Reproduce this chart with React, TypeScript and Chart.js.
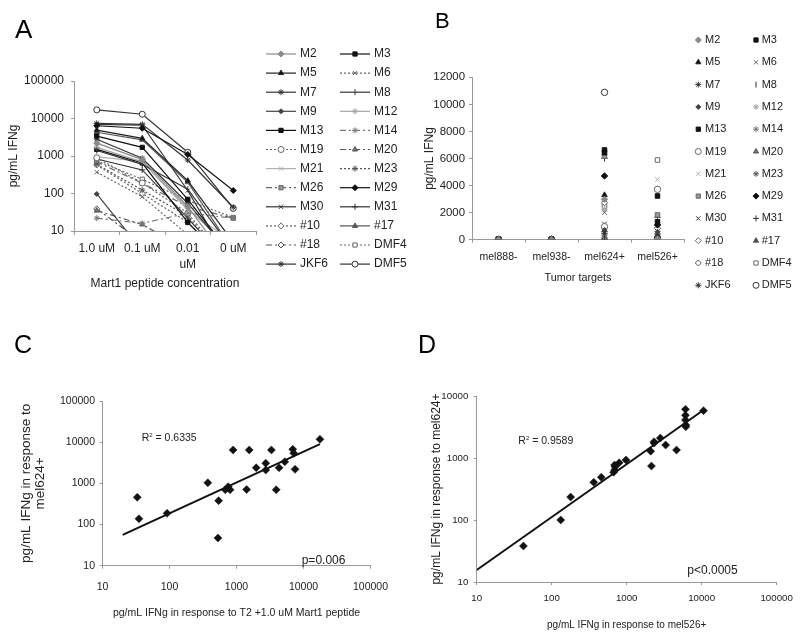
import React, { useEffect, useRef } from "react";
import { Chart, registerables } from "chart.js";
import { drawPoint } from "chart.js/helpers";

Chart.register(...registerables);

const FONT_A = "'Liberation Sans', Arial, sans-serif";
const TEXT = "#222";
const AXIS = "#9a9a9a";

// ---------------- Data ----------------
const clones = ["M2","M3","M5","M6","M7","M8","M9","M12","M13","M14","M19","M20","M21","M23","M26","M29","M30","M31","#10","#17","#18","DMF4","JKF6","DMF5"];

// Panel A: IFNg (pg/mL) vs Mart1 peptide concentration
const concentrationLabels = [["1.0 uM"], ["0.1 uM"], ["0.01", "uM"], ["0 uM"]];
const ifn1uM   = [2200,3400,4900,370,2800,1400,97,1700,1500,22,900,35,950,600,700,6400,7000,830,575,4300,39,750,7400,17000];
const ifn01uM  = [800,1700,2950,82,870,600,3,700,650,16,190,15,720,123,187,5500,6600,425,100,2700,5,240,7000,13000];
const ifn001uM = [45,70,220,8,55,130,1,40,17,30,30,3,36,25,45,1100,120,22,17,200,1,65,780,1260];
const ifn0uM   = [1,2,5,1,2,3,1,3,1,22,1,1,5,1,22,120,1,1,1,3,1,23,43,40];
const yTicksA = [10, 100, 1000, 10000, 100000];

// Panel B: IFNg (pg/mL) vs tumor targets
const targetLabels = ["mel888-", "mel938-", "mel624+", "mel526+"];
const bMel888 = [20,10,30,15,40,5,25,10,35,20,15,10,5,20,30,25,10,15,20,5,10,30,20,15];
const bMel938 = [15,20,10,25,30,10,20,15,25,10,20,5,10,15,20,30,15,10,25,10,15,35,25,20];
const bMel624 = [2980,6630,3300,2000,470,100,720,2240,6430,350,960,120,60,40,6180,4710,1160,6010,30,220,2740,2490,600,10890];
const bMel526 = [60,3230,150,40,220,30,590,80,1330,20,3720,10,4460,50,1830,1090,300,1650,70,25,840,5890,420,120];
const yTicksB = [0, 2000, 4000, 6000, 8000, 10000, 12000];

// Panel C: mel624+ response vs T2 + 1.0 uM Mart1 response
const cT2     = [33,35,92,373,541,528,680,751,802,890,1416,1549,1970,2735,2735,3320,3916,4322,5250,6920,7170,7480,17600];
const cMel624 = [457,138,187,1030,380,47,700,830,700,6460,710,6460,2400,3090,2100,6460,700,2400,3330,6730,5370,2190,11700];
const cFitA = 5.94, cFitB = 0.749;
const cFitX = [20, 17600];
const logTicks5 = [10, 100, 1000, 10000, 100000];

// Panel D: mel624+ response vs mel526+ response
const dMel526 = [42,132,179,364,459,670,690,700,690,794,980,2090,2140,2320,2320,2810,3310,4620,6080,6080,6080,6150,6150,10590];
const dMel624 = [38,100,234,405,490,590,640,720,770,840,930,1290,740,1740,1830,2100,1620,1340,6100,4900,4100,3400,3200,5800];
const dFitA = 2.19, dFitB = 0.853;
const dFitX = [10, 10590];
const logTicks4 = [10, 100, 1000, 10000];

// ---------------- Styles ----------------
type S = { color: string; dash: number[]; point: string; fill: string; rot?: number; r?: number };
const DOT = [2, 2], DD = [6, 3, 2, 3], SOLID: number[] = [];
const cloneStyles: S[] = [
  { color: "#8a8a8a", dash: SOLID, point: "rectRot", fill: "#8a8a8a" }, // M2
  { color: "#111", dash: SOLID, point: "rect", fill: "#111" }, // M3
  { color: "#222", dash: SOLID, point: "triangle", fill: "#111" }, // M5
  { color: "#666", dash: DOT, point: "crossRot", fill: "#666" }, // M6
  { color: "#333", dash: SOLID, point: "star", fill: "#333" }, // M7
  { color: "#333", dash: SOLID, point: "line", fill: "#333", rot: 90 }, // M8
  { color: "#444", dash: SOLID, point: "rectRot", fill: "#444", r: 2.5 }, // M9
  { color: "#a5a5a5", dash: SOLID, point: "star", fill: "#a5a5a5" }, // M12
  { color: "#111", dash: SOLID, point: "rect", fill: "#111" }, // M13
  { color: "#777", dash: DD, point: "star", fill: "#777" }, // M14
  { color: "#666", dash: DOT, point: "circle", fill: "#fff" }, // M19
  { color: "#555", dash: DD, point: "triangle", fill: "#777" }, // M20
  { color: "#b0b0b0", dash: SOLID, point: "crossRot", fill: "#b0b0b0" }, // M21
  { color: "#555", dash: DOT, point: "star", fill: "#555" }, // M23
  { color: "#666", dash: DD, point: "rect", fill: "#999" }, // M26
  { color: "#111", dash: SOLID, point: "rectRot", fill: "#111" }, // M29
  { color: "#333", dash: SOLID, point: "crossRot", fill: "#333" }, // M30
  { color: "#333", dash: SOLID, point: "cross", fill: "#333" }, // M31
  { color: "#666", dash: DOT, point: "rectRot", fill: "#fff" }, // #10
  { color: "#555", dash: SOLID, point: "triangle", fill: "#555" }, // #17
  { color: "#555", dash: DD, point: "rectRot", fill: "#fff" }, // #18
  { color: "#666", dash: DOT, point: "rect", fill: "#fff" }, // DMF4
  { color: "#333", dash: SOLID, point: "star", fill: "#333" }, // JKF6
  { color: "#333", dash: SOLID, point: "circle", fill: "#fff" }, // DMF5
];

// ---------------- Helpers ----------------
function overlay(draw: (ctx: CanvasRenderingContext2D, chart: any) => void) {
  return {
    id: "overlay",
    afterDraw(chart: any) {
      const ctx = chart.ctx as CanvasRenderingContext2D;
      ctx.save();
      draw(ctx, chart);
      ctx.restore();
    },
  };
}

function panelLetter(ctx: CanvasRenderingContext2D, t: string, x: number, y: number, size: number) {
  ctx.font = `${size}px ${FONT_A}`;
  ctx.fillStyle = "#000";
  ctx.textBaseline = "alphabetic";
  ctx.textAlign = "left";
  ctx.fillText(t, x, y);
}

function drawLegend(
  ctx: CanvasRenderingContext2D,
  o: { colX: number[]; labelX: number[]; y0: number; dy: number; line: number; font: string; r: number }
) {
  clones.forEach((label, i) => {
    const col = i % 2, row = Math.floor(i / 2);
    const y = o.y0 + row * o.dy;
    const s = cloneStyles[i];
    let mx = o.colX[col];
    if (o.line > 0) {
      ctx.save();
      ctx.strokeStyle = s.color;
      ctx.lineWidth = 1.2;
      ctx.setLineDash(s.dash);
      ctx.beginPath();
      ctx.moveTo(o.colX[col], y);
      ctx.lineTo(o.colX[col] + o.line, y);
      ctx.stroke();
      ctx.restore();
      mx = o.colX[col] + o.line / 2;
    }
    ctx.save();
    ctx.setLineDash([]);
    ctx.fillStyle = s.fill;
    ctx.strokeStyle = s.color;
    ctx.lineWidth = 1;
    drawPoint(ctx, { pointStyle: s.point as any, rotation: s.rot || 0, radius: s.r ?? o.r, borderWidth: 1 } as any, mx, y);
    ctx.restore();
    ctx.fillStyle = TEXT;
    ctx.font = o.font;
    ctx.textBaseline = "middle";
    ctx.textAlign = "left";
    ctx.fillText(label, o.labelX[col], y);
  });
}

function rSquared(ctx: CanvasRenderingContext2D, x: number, y: number, value: string) {
  ctx.fillStyle = TEXT;
  ctx.textBaseline = "alphabetic";
  ctx.textAlign = "left";
  ctx.font = `10.5px ${FONT_A}`;
  ctx.fillText("R", x, y);
  const w = ctx.measureText("R").width;
  ctx.font = `6px ${FONT_A}`;
  ctx.fillText("2", x + w, y - 4);
  const w2 = ctx.measureText("2").width;
  ctx.font = `10.5px ${FONT_A}`;
  ctx.fillText(" = " + value, x + w + w2, y);
}

function plainText(ctx: CanvasRenderingContext2D, t: string, x: number, y: number) {
  ctx.fillStyle = TEXT;
  ctx.textBaseline = "alphabetic";
  ctx.textAlign = "left";
  ctx.font = `12px ${FONT_A}`;
  ctx.fillText(t, x, y);
}

const fixW = (w: number) => (s: any) => { s.width = w; };
const fixH = (h: number) => (s: any) => { s.height = h; };
const setTicks = (vals: number[]) => (s: any) => { s.ticks = vals.map((v) => ({ value: v })); };
const axisGrid = { display: true, drawOnChartArea: false, drawTicks: true, tickLength: 3, color: AXIS };
const axisBorder = { display: true, color: AXIS, width: 1 };

// ---------------- Configs ----------------
function configA(): any {
  return {
    type: "line",
    data: {
      labels: concentrationLabels,
      datasets: clones.map((name, i) => ({
        label: name,
        data: [ifn1uM[i], ifn01uM[i], ifn001uM[i], ifn0uM[i]],
        borderColor: cloneStyles[i].color,
        borderDash: cloneStyles[i].dash,
        borderWidth: 1.2,
        pointStyle: cloneStyles[i].point,
        rotation: cloneStyles[i].rot || 0,
        pointRadius: cloneStyles[i].r ?? 3,
        pointBackgroundColor: cloneStyles[i].fill,
        pointBorderColor: cloneStyles[i].color,
        pointBorderWidth: 1,
        tension: 0,
        fill: false,
      })),
    },
    options: {
      animation: false,
      responsive: false,
      events: [],
      layout: { padding: { left: 0, top: 81, right: 164, bottom: 0 } },
      plugins: { legend: { display: false }, tooltip: { enabled: false } },
      scales: {
        x: {
          type: "category",
          offset: true,
          afterFit: fixH(89),
          grid: { ...axisGrid, offset: true, tickLength: 4 },
          border: axisBorder,
          ticks: { font: { family: FONT_A, size: 12, lineHeight: 1.333 }, color: TEXT, padding: 6, maxRotation: 0, autoSkip: false },
          title: { display: true, text: "Mart1 peptide concentration", color: TEXT, font: { family: FONT_A, size: 12 }, padding: { top: 0, bottom: 29 } },
        },
        y: {
          type: "logarithmic",
          min: 10,
          max: 100000,
          afterBuildTicks: setTicks(yTicksA),
          afterFit: fixW(74),
          grid: axisGrid,
          border: axisBorder,
          ticks: { callback: (v: any) => String(v), font: { family: FONT_A, size: 12 }, color: TEXT, padding: 7 },
          title: { display: true, text: "pg/mL IFNg", color: TEXT, font: { family: FONT_A, size: 12 }, padding: { top: 6, bottom: 0 } },
        },
      },
    },
    plugins: [
      overlay((ctx) => {
        panelLetter(ctx, "A", 15, 38, 26);
        drawLegend(ctx, { colX: [266, 340], labelX: [300, 374], y0: 54, dy: 19.1, line: 30, font: `12px ${FONT_A}`, r: 3 });
      }),
    ],
  };
}

function configB(): any {
  return {
    type: "line",
    data: {
      labels: targetLabels,
      datasets: clones.map((name, i) => ({
        label: name,
        data: [bMel888[i], bMel938[i], bMel624[i], bMel526[i]],
        showLine: false,
        pointStyle: cloneStyles[i].point,
        rotation: cloneStyles[i].rot || 0,
        pointRadius: cloneStyles[i].r ?? 3.2,
        pointBackgroundColor: cloneStyles[i].fill,
        pointBorderColor: cloneStyles[i].color,
        pointBorderWidth: 1,
      })),
    },
    options: {
      animation: false,
      responsive: false,
      events: [],
      layout: { padding: { left: 0, top: 77.3, right: 116, bottom: 0 } },
      plugins: { legend: { display: false }, tooltip: { enabled: false } },
      scales: {
        x: {
          type: "category",
          offset: true,
          afterFit: fixH(80.3),
          grid: { ...axisGrid, offset: true },
          border: axisBorder,
          ticks: { font: { family: FONT_A, size: 10.5 }, color: TEXT, padding: 8.3, maxRotation: 0, autoSkip: false },
          title: { display: true, text: "Tumor targets", color: TEXT, font: { family: FONT_A, size: 10.8 }, padding: { top: 0, bottom: 35.2 } },
        },
        y: {
          type: "linear",
          min: 0,
          max: 12000,
          afterBuildTicks: setTicks(yTicksB),
          afterFit: fixW(52),
          grid: axisGrid,
          border: axisBorder,
          ticks: { callback: (v: any) => String(v), font: { family: FONT_A, size: 11.4 }, color: TEXT, padding: 4 },
          title: { display: true, text: "pg/mL IFNg", color: TEXT, font: { family: FONT_A, size: 12 }, padding: { top: 2, bottom: 0 } },
        },
      },
    },
    plugins: [
      overlay((ctx) => {
        panelLetter(ctx, "B", 15, 28.3, 22);
        drawLegend(ctx, { colX: [278.3, 336], labelX: [285, 341.7], y0: 40, dy: 22.3, line: 0, font: `11px ${FONT_A}`, r: 3 });
      }),
    ],
  };
}

function scatterConfig(p: {
  xs: number[]; ys: number[]; fitA: number; fitB: number; fitX: number[];
  yMax: number; yTicks: number[];
  padRight: number; padTop: number; yWidth: number; xHeight: number;
  tickSize: number; xTickPad: number; yTickPad: number;
  xTitle: string; xTitleSize: number; xTitlePad: number;
  yTitle: string | string[]; yTitleSize: number; yTitleLH: number; yTitlePad: number;
  draw: (ctx: CanvasRenderingContext2D) => void;
}): any {
  return {
    type: "scatter",
    data: {
      datasets: [
        {
          label: "clones",
          data: p.xs.map((x, i) => ({ x, y: p.ys[i] })),
          pointStyle: "rectRot",
          pointRadius: 4,
          pointBackgroundColor: "#111",
          pointBorderColor: "#111",
          pointBorderWidth: 0.5,
          showLine: false,
        },
        {
          label: "fit",
          data: p.fitX.map((x) => ({ x, y: p.fitA * Math.pow(x, p.fitB) })),
          showLine: true,
          borderColor: "#111",
          borderWidth: 2,
          pointRadius: 0,
        },
      ],
    },
    options: {
      animation: false,
      responsive: false,
      events: [],
      layout: { padding: { left: 0, top: p.padTop, right: p.padRight, bottom: 0 } },
      plugins: { legend: { display: false }, tooltip: { enabled: false } },
      scales: {
        x: {
          type: "logarithmic",
          min: 10,
          max: 100000,
          afterBuildTicks: setTicks(logTicks5),
          afterFit: fixH(p.xHeight),
          grid: axisGrid,
          border: axisBorder,
          ticks: { callback: (v: any) => String(v), font: { family: FONT_A, size: p.tickSize }, color: TEXT, padding: p.xTickPad, maxRotation: 0 },
          title: { display: true, text: p.xTitle, color: TEXT, font: { family: FONT_A, size: p.xTitleSize }, padding: { top: 0, bottom: p.xTitlePad } },
        },
        y: {
          type: "logarithmic",
          min: 10,
          max: p.yMax,
          afterBuildTicks: setTicks(p.yTicks),
          afterFit: fixW(p.yWidth),
          grid: axisGrid,
          border: axisBorder,
          ticks: { callback: (v: any) => String(v), font: { family: FONT_A, size: p.tickSize }, color: TEXT, padding: p.yTickPad },
          title: { display: true, text: p.yTitle, color: TEXT, font: { family: FONT_A, size: p.yTitleSize, lineHeight: p.yTitleLH }, padding: { top: p.yTitlePad, bottom: 0 } },
        },
      },
    },
    plugins: [overlay((ctx) => p.draw(ctx))],
  };
}

function configC(): any {
  return scatterConfig({
    xs: cT2, ys: cMel624, fitA: cFitA, fitB: cFitB, fitX: cFitX,
    yMax: 100000, yTicks: logTicks5,
    padRight: 17, padTop: 81, yWidth: 102.5, xHeight: 72.3,
    tickSize: 10.5, xTickPad: 12, yTickPad: 4.5,
    xTitle: "pg/mL IFNg in response to T2 +1.0 uM Mart1 peptide", xTitleSize: 10.5, xTitlePad: 18.6,
    yTitle: ["pg/mL IFNg in response to", "mel624+"], yTitleSize: 13.5, yTitleLH: 1.0, yTitlePad: 20,
    draw: (ctx) => {
      panelLetter(ctx, "C", 14, 33, 25);
      rSquared(ctx, 141.7, 121.3, "0.6335");
      plainText(ctx, "p=0.006", 301.7, 243.6);
    },
  });
}

function configD(): any {
  return scatterConfig({
    xs: dMel526, ys: dMel624, fitA: dFitA, fitB: dFitB, fitX: dFitX,
    yMax: 10000, yTicks: logTicks4,
    padRight: 20, padTop: 76, yWidth: 76.7, xHeight: 56,
    tickSize: 9.7, xTickPad: 7.2, yTickPad: 5.4,
    xTitle: "pg/mL IFNg in response to mel526+", xTitleSize: 10, xTitlePad: 7,
    yTitle: "pg/mL IFNg in response to mel624+", yTitleSize: 12, yTitleLH: 1.2, yTitlePad: 29,
    draw: (ctx) => {
      panelLetter(ctx, "D", 18, 33, 25);
      rSquared(ctx, 118.3, 124, "0.9589");
      plainText(ctx, "p<0.0005", 287.3, 254.3);
    },
  });
}

// ---------------- Components ----------------
function Panel(props: { left: number; top: number; width: number; height: number; make: () => any }) {
  const ref = useRef<HTMLCanvasElement>(null);
  useEffect(() => {
    const chart = new Chart(ref.current as HTMLCanvasElement, props.make());
    return () => chart.destroy();
  }, []);
  return (
    <div style={{ position: "absolute", left: props.left, top: props.top, width: props.width, height: props.height }}>
      <canvas ref={ref} width={props.width} height={props.height} style={{ width: props.width, height: props.height, display: "block" }} />
    </div>
  );
}

export default function App() {
  return (
    <div style={{ position: "fixed", left: 0, top: 0, width: 800, height: 638, background: "#fff", overflow: "hidden" }}>
      <Panel left={0} top={0} width={420} height={320} make={configA} />
      <Panel left={420} top={0} width={380} height={320} make={configB} />
      <Panel left={0} top={320} width={400} height={318} make={configC} />
      <Panel left={400} top={320} width={400} height={318} make={configD} />
    </div>
  );
}
